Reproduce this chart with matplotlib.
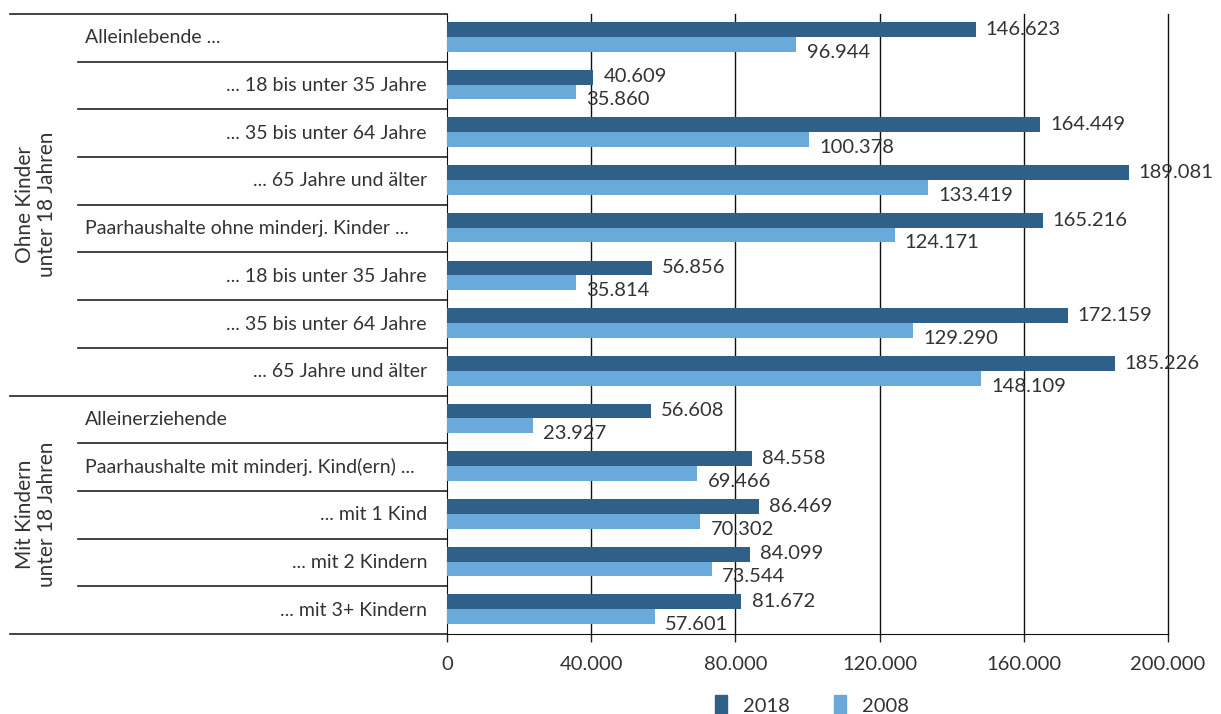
import matplotlib
matplotlib.use("Agg")
import matplotlib.pyplot as plt
import matplotlib.transforms as mtrans
from matplotlib.patches import Patch
import numpy as np

plt.rcParams['font.family'] = ['Lato', 'DejaVu Sans']

categories = [
    "Alleinlebende ...",
    "... 18 bis unter 35 Jahre",
    "... 35 bis unter 64 Jahre",
    "... 65 Jahre und älter",
    "Paarhaushalte ohne minderj. Kinder ...",
    "... 18 bis unter 35 Jahre",
    "... 35 bis unter 64 Jahre",
    "... 65 Jahre und älter",
    "Alleinerziehende",
    "Paarhaushalte mit minderj. Kind(ern) ...",
    "... mit 1 Kind",
    "... mit 2 Kindern",
    "... mit 3+ Kindern",
]
values_2018 = [146623, 40609, 164449, 189081, 165216, 56856, 172159, 185226,
               56608, 84558, 86469, 84099, 81672]
values_2008 = [96944, 35860, 100378, 133419, 124171, 35814, 129290, 148109,
               23927, 69466, 70302, 73544, 57601]
groups = ["Ohne Kinder\nunter 18 Jahren", "Mit Kindern\nunter 18 Jahren"]
group_sizes = [8, 5]
x_ticks = [0, 40000, 80000, 120000, 160000, 200000]

dark = "#2e6089"
light = "#6aaadb"
text_col = "#333333"
fs = 14

W, H = 1221, 714
fig = plt.figure(figsize=(W / 100, H / 100), dpi=100)
x0, x1, y_top, y_bot = 447, 1168, 14, 634
ax = fig.add_axes([x0 / W, 1 - y_bot / H, (x1 - x0) / W, (y_bot - y_top) / H])

n = len(categories)
rows = np.arange(n)
bh = 0.31
ax.barh(rows + 0.17, values_2018, height=bh, align='edge', color=dark, zorder=3)
ax.barh(rows + 0.17 + bh, values_2008, height=bh, align='edge', color=light, zorder=3)

def fmt(v):
    return f"{v:,}".replace(",", ".")

for i in range(n):
    ax.text(values_2018[i] + 2800, i + 0.32, fmt(values_2018[i]), va='center', ha='left',
            fontsize=14.5, color=text_col, zorder=2)
    ax.text(values_2008[i] + 2800, i + 0.80, fmt(values_2008[i]), va='center', ha='left',
            fontsize=14.5, color=text_col, zorder=2)

ax.set_xlim(0, 200000)
ax.set_ylim(n, 0)
ax.set_yticks([])
ax.set_xticks(x_ticks)
ax.set_xticklabels([fmt(t) for t in x_ticks], fontsize=14.5, color=text_col)
ax.tick_params(axis='x', direction='out', length=6, width=1, color='#222222', pad=10)
for t in x_ticks[1:]:
    ax.axvline(t, color='#111111', lw=1, zorder=1, clip_on=False)
ax.spines['top'].set_visible(False)
ax.spines['right'].set_visible(False)
ax.spines['left'].set_color('#111111')
ax.spines['bottom'].set_color('#111111')

# left table lines and labels
tr = mtrans.blended_transform_factory(fig.transFigure, ax.transData)
col_a, col_b, col_end = 10 / W, 78 / W, x0 / W
group_edges = np.cumsum([0] + group_sizes)
for k in range(n + 1):
    start = col_a if k in group_edges else col_b
    ax.plot([start, col_end], [k, k], transform=tr, color='#222222', lw=1.2, clip_on=False)

for i, lab in enumerate(categories):
    if lab.startswith("..."):
        ax.text(427 / W, i + 0.5, lab, transform=tr, ha='right', va='center',
                fontsize=fs, color=text_col)
    else:
        ax.text(85 / W, i + 0.5, lab, transform=tr, ha='left', va='center',
                fontsize=fs, color=text_col)

for g, lab in enumerate(groups):
    mid = (group_edges[g] + group_edges[g + 1]) / 2
    ax.text(36 / W, mid, lab, transform=tr, rotation=90, ha='center', va='center',
            fontsize=15, color=text_col, multialignment='center', linespacing=1.15)

handles = [Patch(color=dark, label="2018"), Patch(color=light, label="2008")]
fig.legend(handles=handles, loc='center', bbox_to_anchor=(812 / W, 1 - 705 / H), ncol=2,
           frameon=False, fontsize=14.5, handlelength=0.6, handleheight=1.1,
           handletextpad=0.8, columnspacing=2.2, labelcolor=text_col)

fig.savefig("out.png", dpi=100)
